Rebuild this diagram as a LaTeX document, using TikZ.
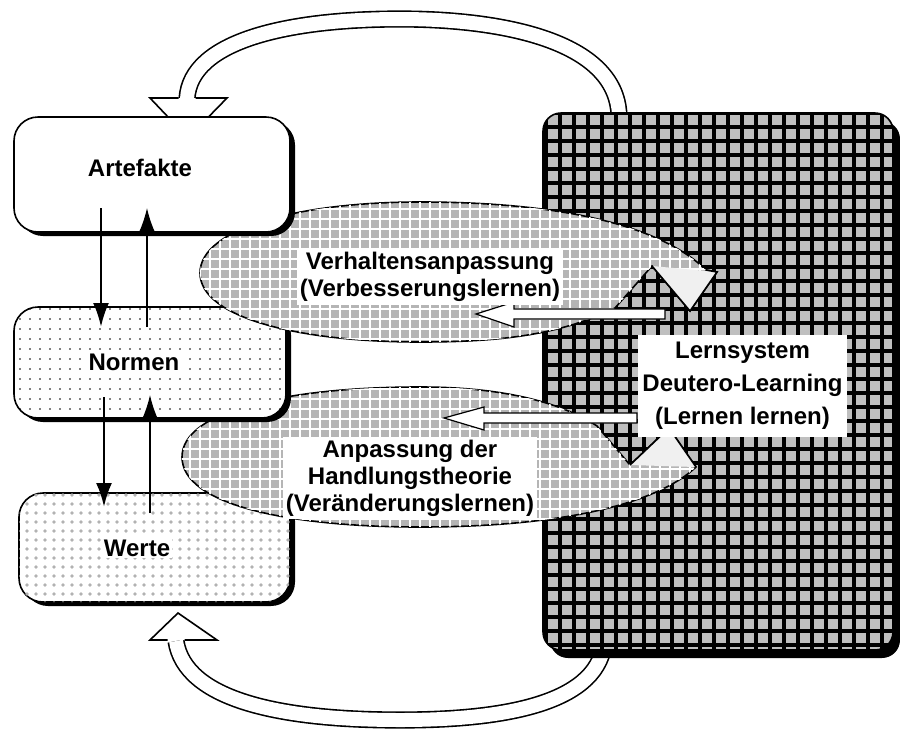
\documentclass[tikz,border=0pt]{standalone}
\usepackage{fontspec}
\setsansfont{Liberation Sans}
\usetikzlibrary{arrows.meta,patterns.meta,shadows}

\begin{document}
\begin{tikzpicture}[x=0.5pt,y=-0.5pt,
  txt/.style={font=\sffamily\bfseries\fontsize{12}{13.5}\selectfont,align=center,inner sep=0pt},
  box/.style={draw,line width=0.8pt,rounded corners=12pt,fill=white,inner sep=0pt},
  shade/.style={drop shadow={shadow xshift=2.5pt,shadow yshift=-2pt,fill=black,opacity=1}},
  loop/.style={line width=0.8pt,double=white,double distance=7pt},
  oval/.style={draw,line width=0.8pt,fill=gray!58,
    postaction={pattern={Hatch[distance=5pt,line width=0.8pt]},pattern color=white}},
  tip/.style={fill=gray!12},
  wharrow/.style={draw,line width=0.6pt,fill=white,line join=miter}]
\useasboundingbox (0,0) rectangle (900,729);
% feedback loops
\draw[loop] (619,115) .. controls (616,40) and (500,19) .. (400,19)
  .. controls (290,19) and (190,40) .. (187,99);
\draw[loop] (604,645) .. controls (595,705) and (500,720) .. (400,720)
  .. controls (280,720) and (185,700) .. (176,641);
% learning system
\node[box,rounded corners=9pt,minimum width=175pt,minimum height=268.5pt,fill=gray!50,
  postaction={pattern={Hatch[distance=7pt,line width=1.6pt]},pattern color=black},
  drop shadow={shadow xshift=3.5pt,shadow yshift=-4pt,fill=black,opacity=1}]
  (lern) at (718,381.5) {};
\fill[white] (150,98) -- (227,98) -- (188,138) -- cycle;
\draw[line width=0.8pt] (178.5,98) -- (150,98) -- (188,138) -- (227,98) -- (195.5,98);
\fill[white] (150,640) -- (217,640) -- (178,613) -- cycle;
\draw[line width=0.8pt] (167.5,640) -- (150,640) -- (178,613) -- (217,640) -- (184.5,640);
% Werte
\node[box,shade,minimum width=135.5pt,minimum height=54.5pt,
  postaction={pattern={Dots[distance=4.5pt,radius=0.9pt]},pattern color=gray!60}]
  (wert) at (154.5,547.5) {};
% lower oval
\draw[oval] (182,457) .. controls (182,410) and (290,387) .. (420,387)
  .. controls (510,387) and (565,405) .. (597,426) -- (630,465) -- (669,428) -- (696,467)
  .. controls (650,510) and (540,527) .. (420,527)
  .. controls (290,527) and (182,505) .. cycle;
\fill[tip] (630,465) -- (669,428) -- (696,467) -- cycle;
\draw[line width=0.8pt] (630,465) -- (669,428) -- (696,467);
% Normen
\node[box,shade,minimum width=136pt,minimum height=55.5pt,
  postaction={pattern={Dots[distance=5pt,radius=0.4pt]},pattern color=black}]
  (norm) at (150,362.5) {};
% upper oval
\draw[oval] (200,273) .. controls (200,228) and (300,202) .. (420,202)
  .. controls (560,202) and (660,225) .. (706,270) -- (717,272) -- (690,311) -- (652,266)
  -- (615,308) .. controls (560,335) and (500,342) .. (420,342)
  .. controls (300,342) and (200,318) .. cycle;
\fill[tip] (652,266) -- (717,272) -- (690,311) -- cycle;
\draw[line width=0.8pt] (706,270) -- (717,272) -- (690,311) -- (652,266);
% Artefakte
\node[box,shade,minimum width=138pt,minimum height=57.5pt] (art) at (152,174.5) {};
% labels
\node[txt,font=\sffamily\bfseries\fontsize{12}{16.5}\selectfont,fill=white,
  minimum width=104.5pt,minimum height=51pt] (lab) at (742.5,386)
  {Lernsystem\\Deutero-Learning\\(Lernen lernen)};
\draw[wharrow] (476,314) -- (514,302) -- (514,309) -- (665,309) -- (665,319)
  -- (514,319) -- (514,327) -- cycle;
\draw[wharrow] (444,418) -- (484,407) -- (484,413) -- (637,413) -- (637,423)
  -- (484,423) -- (484,430) -- cycle;
\node[txt] (artT) at (140,168) {Artefakte};
\node[txt,fill=white,inner sep=1pt] (normT) at (134,362) {Normen};
\node[txt,fill=white,inner sep=1pt] (wertT) at (137,548) {Werte};
\node[txt,fill=white,inner sep=1.5pt] (vaT) at (430,277)
  {Verhaltensanpassung\\(Verbesserungslernen)};
\node[txt,fill=white,inner sep=1.5pt] (ahT) at (410,478)
  {Anpassung der\\Handlungstheorie\\(Veränderungslernen)};
% arrows between the levels
\foreach \n/\x/\y in {a1/101/208,a2/101/327,a3/147/327,a4/147/208,
  b1/104/397,b2/104/507,b3/150/513,b4/150/395}
  \coordinate (\n) at (\x,\y);
\foreach \s/\e/\w in {a1/a2/1.3pt,a3/a4/0.7pt,b1/b2/1.3pt,b3/b4/0.7pt}
  \draw[-{Latex[length=12pt,width=8pt]},line width=\w] (\s) -- (\e);
\end{tikzpicture}
\end{document}
